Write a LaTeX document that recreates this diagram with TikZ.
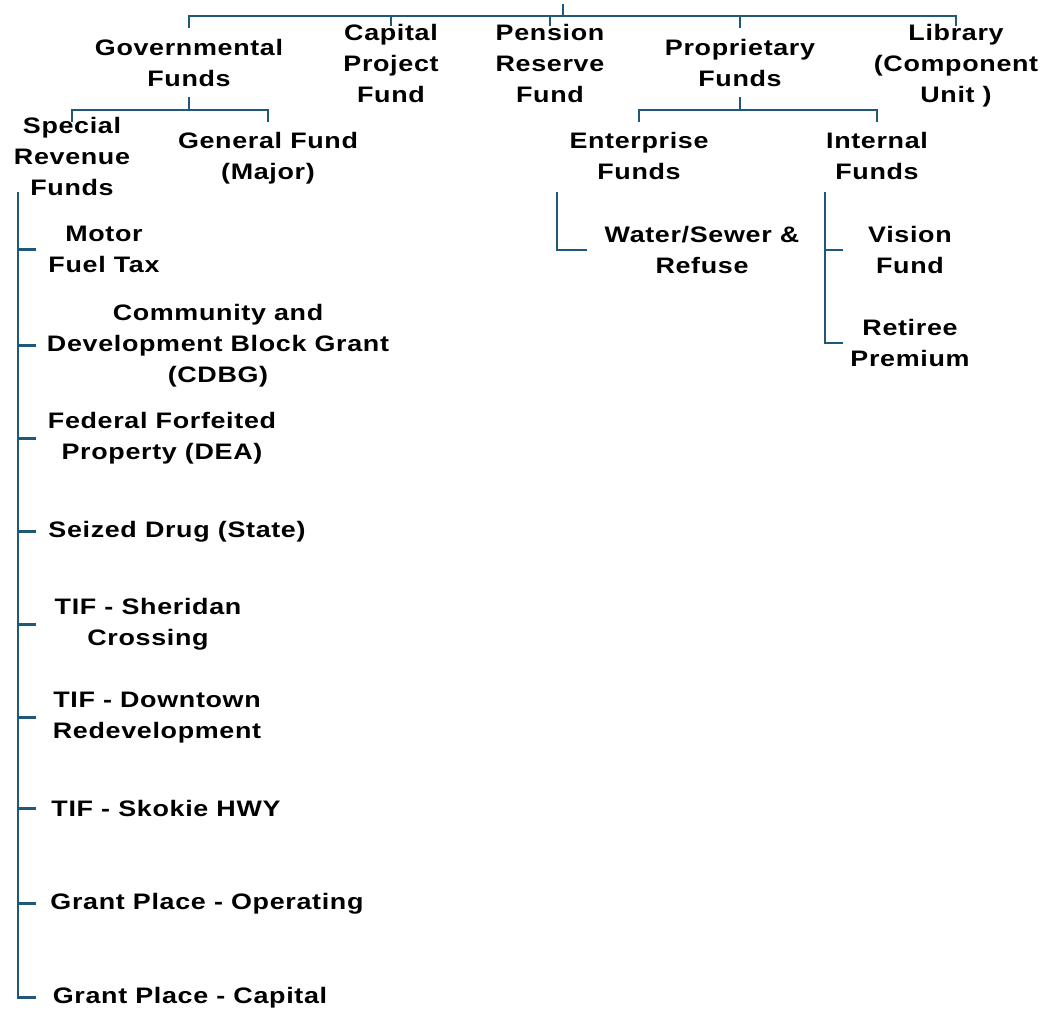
\documentclass[tikz,border=0pt]{standalone}
\usepackage{fontspec}
\setmainfont{Liberation Sans}[FakeStretch=1.2, LetterSpace=3]
\usetikzlibrary{positioning}

\definecolor{linkblue}{HTML}{1F5878}

\tikzset{
	fund/.style={align=center, inner sep=0pt, anchor=north, text=black,
		font=\fontsize{22.4}{31}\selectfont\bfseries},
	link/.style={draw=linkblue, line width=2.8pt}
}

\begin{document}
\begin{tikzpicture}[x=1pt,y=-1pt]
		\useasboundingbox (0,0) rectangle (1044,1009);

		% top level
		\node[fund] (GOV) 		at (189,39)		{Governmental\\Funds};
		\node[fund] (CAP) 		at (391,24)		{Capital\\Project\\Fund};
		\node[fund] (PEN) 		at (550,24)		{Pension\\Reserve\\Fund};
		\node[fund] (PROP) 		at (740,39)		{Proprietary\\Funds};
		\node[fund] (LIB) 		at (956,24)		{Library\\(Component\\Unit )};

		% second level
		\node[fund] (SPEC) 		at (72,117)		{Special\\Revenue\\Funds};
		\node[fund] (GEN) 		at (268,132)	{General Fund\\(Major)};
		\node[fund] (ENT) 		at (639,132)	{Enterprise\\Funds};
		\node[fund] (INT) 		at (877,132)	{Internal\\Funds};

		% special revenue funds
		\node[fund] (MOTOR) 	at (104,226)	{Motor\\Fuel Tax};
		\node[fund] (CDBG) 		at (218,304)	{Community and\\Development Block Grant\\(CDBG)};
		\node[fund] (DEA) 		at (162,412)	{Federal Forfeited\\Property (DEA)};
		\node[fund] (SEIZED) 	at (177,521)	{Seized Drug (State)};
		\node[fund] (SHERIDAN) 	at (148,598)	{TIF - Sheridan\\Crossing};
		\node[fund] (DOWNTOWN) 	at (157,692)	{TIF - Downtown\\Redevelopment};
		\node[fund] (SKOKIE) 	at (166,800)	{TIF - Skokie HWY};
		\node[fund] (GP_OP) 	at (207,893)	{Grant Place - Operating};
		\node[fund] (GP_CAP) 	at (190,987)	{Grant Place - Capital};

		% proprietary funds
		\node[fund] (WATER) 	at (702,226)	{Water/Sewer \&\\Refuse};
		\node[fund] (VISION) 	at (910,226)	{Vision\\Fund};
		\node[fund] (RETIREE) 	at (910,319)	{Retiree\\Premium};

		\coordinate (ROOT) 		at (563,4);
		\coordinate (HUB) 		at (563,16);
		\coordinate (GOV_FORK) 	at (189,110);
		\coordinate (PROP_FORK) at (740,110);
		\coordinate (SPEC_TOP) 	at (18,192);
		\coordinate (ENT_TOP) 	at (557,192);
		\coordinate (INT_TOP) 	at (825,192);

		\draw[link]	(ROOT) -- (HUB);
		\draw[link]	([yshift=11pt]GOV.north) |- (HUB) -| ([yshift=-2pt]LIB.north);
		\draw[link]	(CAP.north |- HUB) -- ([yshift=-2pt]CAP.north);
		\draw[link]	(PEN.north |- HUB) -- ([yshift=-2pt]PEN.north);
		\draw[link]	(PROP.north |- HUB) -- ([yshift=11pt]PROP.north);

		\draw[link]	([yshift=-10pt]GOV.south) -- (GOV_FORK);
		\draw[link]	([yshift=-5pt]SPEC.north) |- (GOV_FORK) -| ([yshift=10pt]GEN.north);
		\draw[link]	([yshift=-10pt]PROP.south) -- (PROP_FORK);
		\draw[link]	([yshift=10pt]ENT.north) |- (PROP_FORK) -| ([yshift=10pt]INT.north);

		\draw[link]	(SPEC_TOP) -- (SPEC_TOP |- GP_CAP.west) -- ++(18,0);
		\foreach \n in {MOTOR,CDBG,DEA,SEIZED,SHERIDAN,DOWNTOWN,SKOKIE,GP_OP}
			\draw[link] (SPEC_TOP |- \n.west) -- ++(18,0);

		\draw[link]	(ENT_TOP) -- (ENT_TOP |- WATER.west) -- ++(30,0);
		\draw[link]	(INT_TOP) -- (INT_TOP |- RETIREE.west) -- ++(18,0);
		\draw[link]	(INT_TOP |- VISION.west) -- ++(18,0);
	\end{tikzpicture}
\end{document}
